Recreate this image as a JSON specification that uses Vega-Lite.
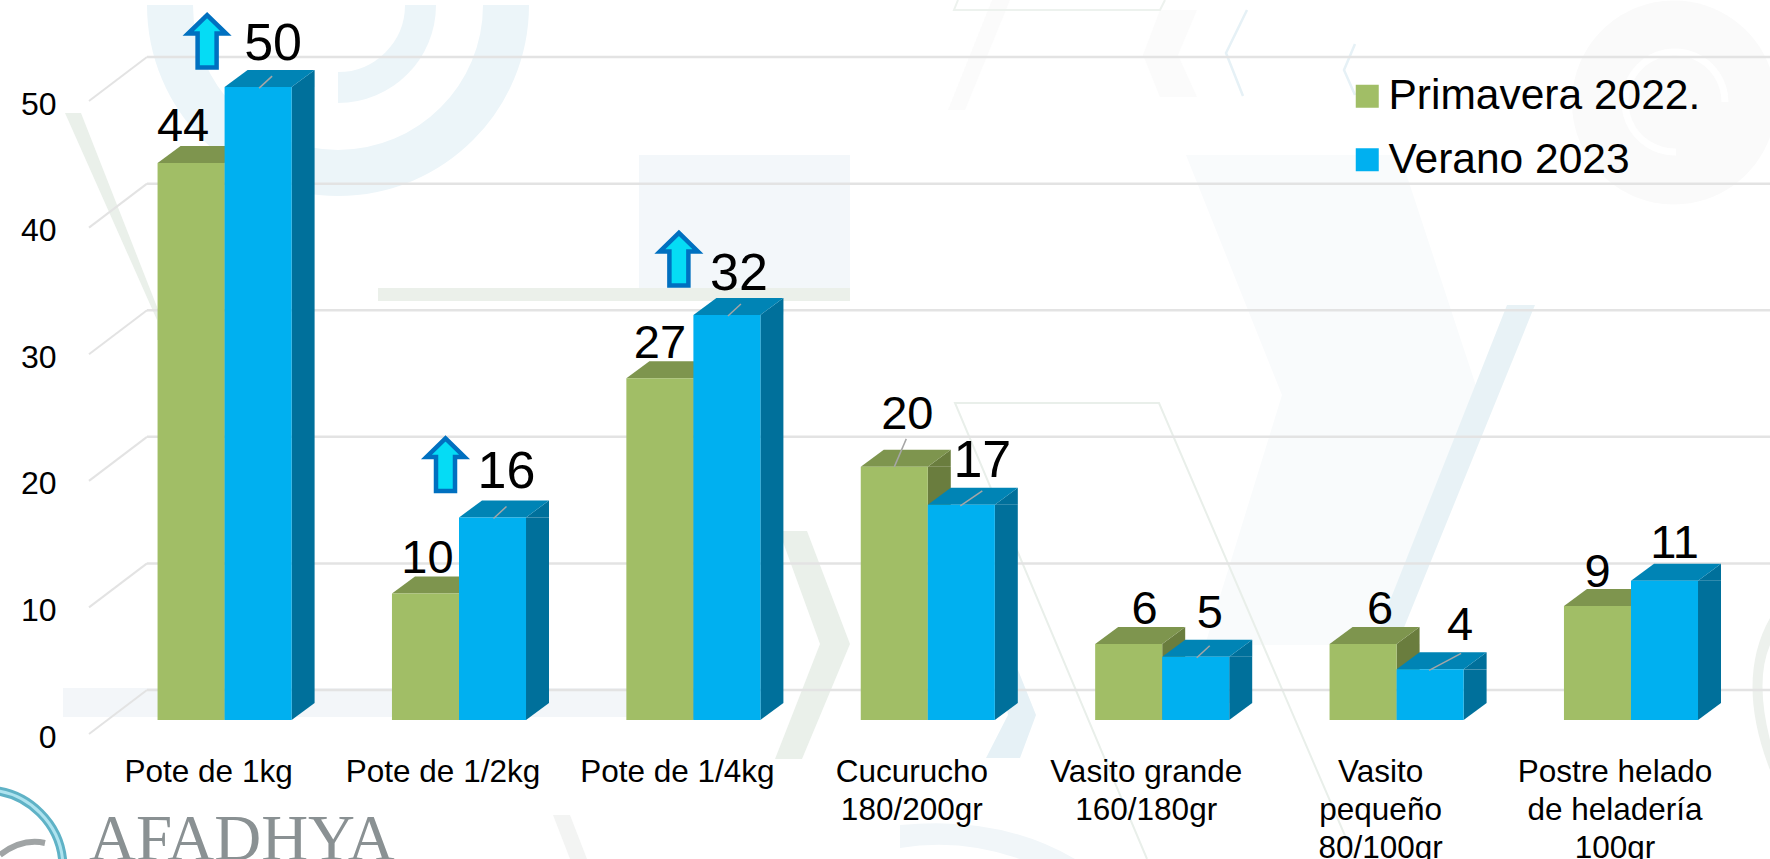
{
"$schema":"https://vega.github.io/schema/vega-lite/v6.json",
"width":1770,"height":859,"padding":0,"autosize":{"type":"none"},
"background":"white",
"config":{"view":{"stroke":null},"font":"Liberation Sans"},
"params":[
{"name":"cats","value":["Pote de 1kg","Pote de 1/2kg","Pote de 1/4kg","Cucurucho|180/200gr","Vasito grande|160/180gr","Vasito|pequeño|80/100gr","Postre helado|de heladería|100gr"]},
{"name":"dxP","value":[-8,2,0,13,16,17,0]},
{"name":"dxV","value":[15,14,12,21,14,30,10]},
{"name":"dyP","value":[36,34,34,52,34,34,33]},
{"name":"dyV","value":[43,45,41,44,43,43,37]}
],
"data":{"name":"main","values":[
{"cat":"Pote de 1kg","serie":"Primavera 2022.","valor":44},
{"cat":"Pote de 1/2kg","serie":"Primavera 2022.","valor":10},
{"cat":"Pote de 1/4kg","serie":"Primavera 2022.","valor":27},
{"cat":"Cucurucho|180/200gr","serie":"Primavera 2022.","valor":20},
{"cat":"Vasito grande|160/180gr","serie":"Primavera 2022.","valor":6},
{"cat":"Vasito|pequeño|80/100gr","serie":"Primavera 2022.","valor":6},
{"cat":"Postre helado|de heladería|100gr","serie":"Primavera 2022.","valor":9},
{"cat":"Pote de 1kg","serie":"Verano 2023","valor":50},
{"cat":"Pote de 1/2kg","serie":"Verano 2023","valor":16},
{"cat":"Pote de 1/4kg","serie":"Verano 2023","valor":32},
{"cat":"Cucurucho|180/200gr","serie":"Verano 2023","valor":17},
{"cat":"Vasito grande|160/180gr","serie":"Verano 2023","valor":5},
{"cat":"Vasito|pequeño|80/100gr","serie":"Verano 2023","valor":4},
{"cat":"Postre helado|de heladería|100gr","serie":"Verano 2023","valor":11}
]},
"encoding":{
"x":{"field":"cat","type":"nominal","sort":null,"scale":{"domain":{"expr":"cats"},"range":[107.4,1748.2],"paddingInner":0.428,"paddingOuter":0.214},"axis":{"title":null,"orient":"bottom","offset":-103,"zindex":1,"domain":false,"ticks":false,"grid":false,"labelAngle":0,"labelOffset":-16,"labelPadding":0,"labelFontSize":31.5,"labelColor":"#000000","labelFont":"Liberation Sans","labelLimit":400,"labelBaseline":"top","labelLineHeight":38,"labelExpr":"split(datum.label,'|')"}},
"xOffset":{"field":"serie","type":"nominal","sort":null,"scale":{"domain":["Primavera 2022.","Verano 2023"],"paddingInner":0,"paddingOuter":0}},
"y":{"field":"valor","type":"quantitative","scale":{"domain":[0,56.8],"range":[720,1],"nice":false,"zero":false},"axis":{"title":null,"orient":"left","offset":-56,"zindex":1,"values":[0,10,20,30,40,50],"domain":false,"ticks":false,"grid":false,"labelPadding":0,"labelOffset":17,"labelFontSize":32,"labelColor":"#000000","labelFont":"Liberation Sans"}}
},
"layer":[
{"data":{"values":[{}]},"mark":{"type":"point","shape":"M170 5A168 168 0 0 0 506 5","size":4,"filled":false,"stroke":"#ecf5f9","strokeWidth":46,"opacity":1},"encoding":{"x":{"value":0},"y":{"value":0},"xOffset":null}},
{"data":{"values":[{}]},"mark":{"type":"point","shape":"M338 87.5A82.5 82.5 0 0 0 420.5 5","size":4,"filled":false,"stroke":"#ecf5f9","strokeWidth":31,"opacity":1},"encoding":{"x":{"value":0},"y":{"value":0},"xOffset":null}},
{"data":{"values":[{}]},"mark":{"type":"point","shape":"M65 113L81 113L170 340L157 340L157 320Z","size":4,"filled":true,"fill":"#eaf0ea","opacity":1},"encoding":{"x":{"value":0},"y":{"value":0},"xOffset":null}},
{"data":{"values":[{}]},"mark":{"type":"point","shape":"M639 155L850 155L850 288L639 288Z","size":4,"filled":true,"fill":"#f3f7fa","opacity":1},"encoding":{"x":{"value":0},"y":{"value":0},"xOffset":null}},
{"data":{"values":[{}]},"mark":{"type":"point","shape":"M378 288L850 288L850 301L378 301Z","size":4,"filled":true,"fill":"#ebf0ea","opacity":1},"encoding":{"x":{"value":0},"y":{"value":0},"xOffset":null}},
{"data":{"values":[{}]},"mark":{"type":"point","shape":"M63 688L700 688L700 717L63 717Z","size":4,"filled":true,"fill":"#f3f6f9","opacity":1},"encoding":{"x":{"value":0},"y":{"value":0},"xOffset":null}},
{"data":{"values":[{}]},"mark":{"type":"point","shape":"M1186 155L1400 155L1479 395L1385 645L1205 645L1282 395Z","size":4,"filled":true,"fill":"#f9fbfc","opacity":1},"encoding":{"x":{"value":0},"y":{"value":0},"xOffset":null}},
{"data":{"values":[{}]},"mark":{"type":"point","shape":"M1507 305L1535 305L1379 689L1355 689Z","size":4,"filled":true,"fill":"#e8f2f6","opacity":1},"encoding":{"x":{"value":0},"y":{"value":0},"xOffset":null}},
{"data":{"values":[{}]},"mark":{"type":"point","shape":"M779 531L807 531L850 644L802 759L775 759L820 644Z","size":4,"filled":true,"fill":"#eaf0ea","opacity":1},"encoding":{"x":{"value":0},"y":{"value":0},"xOffset":null}},
{"data":{"values":[{}]},"mark":{"type":"point","shape":"M1018 670L1036 715L1020 758L986 758L1008 715L1000 670Z","size":4,"filled":true,"fill":"#e6f1f6","opacity":1},"encoding":{"x":{"value":0},"y":{"value":0},"xOffset":null}},
{"data":{"values":[{}]},"mark":{"type":"point","shape":"M900 825Q1000 815 1075 859L1020 859Q960 838 900 848Z","size":4,"filled":true,"fill":"#f1f6f9","opacity":1},"encoding":{"x":{"value":0},"y":{"value":0},"xOffset":null}},
{"data":{"values":[{}]},"mark":{"type":"point","shape":"M553 815L570 815L587 859L570 859Z","size":4,"filled":true,"fill":"#f3f4f3","opacity":1},"encoding":{"x":{"value":0},"y":{"value":0},"xOffset":null}},
{"data":{"values":[{}]},"mark":{"type":"point","shape":"M1770 618Q1735 680 1770 770L1770 740Q1755 680 1770 645Z","size":4,"filled":true,"fill":"#edf1ed","opacity":1},"encoding":{"x":{"value":0},"y":{"value":0},"xOffset":null}},
{"data":{"values":[{}]},"mark":{"type":"point","shape":"M1147 859L955 403L1159 403L1355 859","size":4,"filled":false,"stroke":"#e9efea","strokeWidth":2,"opacity":1},"encoding":{"x":{"value":0},"y":{"value":0},"xOffset":null}},
{"data":{"values":[{}]},"mark":{"type":"point","shape":"M992 0L1010 0L965 110L948 110Z","size":4,"filled":true,"fill":"#fbfbfb","opacity":1},"encoding":{"x":{"value":0},"y":{"value":0},"xOffset":null}},
{"data":{"values":[{}]},"mark":{"type":"point","shape":"M1160 10L1197 10L1178 55L1197 97L1160 97L1143 55Z","size":4,"filled":true,"fill":"#fbfbfb","opacity":1},"encoding":{"x":{"value":0},"y":{"value":0},"xOffset":null}},
{"data":{"values":[{}]},"mark":{"type":"point","shape":"M958 0L954 10L1160 10L1165 0","size":4,"filled":false,"stroke":"#edf2ee","strokeWidth":2,"opacity":1},"encoding":{"x":{"value":0},"y":{"value":0},"xOffset":null}},
{"data":{"values":[{}]},"mark":{"type":"point","shape":"M1247 10L1226 53L1243 96M1355 44L1344 70L1355 95","size":4,"filled":false,"stroke":"#e6f1f6","strokeWidth":2.5,"opacity":1},"encoding":{"x":{"value":0},"y":{"value":0},"xOffset":null}},
{"data":{"values":[{}]},"mark":{"type":"point","shape":"M1776 102A102 102 0 1 0 1776 103Z","size":4,"filled":true,"fill":"#fafafa","opacity":1},"encoding":{"x":{"value":0},"y":{"value":0},"xOffset":null}},
{"data":{"values":[{}]},"mark":{"type":"point","shape":"M1676 152A50 50 0 1 1 1725 102","size":4,"filled":false,"stroke":"#ffffff","strokeWidth":7,"opacity":1},"encoding":{"x":{"value":0},"y":{"value":0},"xOffset":null}},
{"data":{"values":[{}]},"mark":{"type":"point","shape":"M-15 790A78 78 0 0 1 63 868","size":4,"filled":false,"stroke":"#5fb2c6","strokeWidth":9,"opacity":1},"encoding":{"x":{"value":0},"y":{"value":0},"xOffset":null}},
{"data":{"values":[{}]},"mark":{"type":"point","shape":"M-15 790A78 78 0 0 1 63 868","size":4,"filled":false,"stroke":"#aee3ef","strokeWidth":3,"opacity":1},"encoding":{"x":{"value":0},"y":{"value":0},"xOffset":null}},
{"data":{"values":[{}]},"mark":{"type":"point","shape":"M0 855Q22 838 45 843","size":4,"filled":false,"stroke":"#a0a4a5","strokeWidth":6,"opacity":1},"encoding":{"x":{"value":0},"y":{"value":0},"xOffset":null}},
{"data":{"values":[{}]},"mark":{"type":"text","text":"AFADHYA","font":"Liberation Serif","fontSize":65,"align":"left","baseline":"alphabetic","fill":"#8a9193"},"encoding":{"x":{"value":89},"y":{"value":860},"xOffset":null,"text":null}},

{"data":{"values":[{"v":0},{"v":10},{"v":20},{"v":30},{"v":40},{"v":50}]},"mark":{"type":"rule","stroke":"#e3e3e3","strokeWidth":2.5,"yOffset":-30},"encoding":{"x":{"value":147},"x2":{"value":1770},"y":{"field":"v","type":"quantitative"},"xOffset":null}},
{"data":{"values":[{"v":0},{"v":10},{"v":20},{"v":30},{"v":40},{"v":50}]},"mark":{"type":"point","shape":"M0 -30L-58 14","size":4,"filled":false,"stroke":"#e3e3e3","strokeWidth":2,"opacity":1},"encoding":{"x":{"value":147},"y":{"field":"v","type":"quantitative"},"xOffset":null}},

{"mark":{"type":"rule","strokeWidth":23,"xOffset":{"expr":"datum.serie==='Verano 2023'?78.5:11.5"},"y2Offset":-17},"encoding":{"xOffset":null,"y2":{"datum":0},"stroke":{"condition":{"test":"datum.serie==='Verano 2023'","value":"#00709b"},"value":"#6a7d3e"}}},
{"mark":{"type":"point","shape":"M33.5 0L56.5 -17L56.5 0Z","size":4,"filled":true,"opacity":1},"encoding":{"fill":{"condition":{"test":"datum.serie==='Verano 2023'","value":"#00709b"},"value":"#6a7d3e"}}},
{"mark":{"type":"point","shape":"M33.5 0L56.5 -17L33.5 -17Z","size":4,"filled":true,"opacity":1},"encoding":{"y":{"datum":0},"fill":{"condition":{"test":"datum.serie==='Verano 2023'","value":"#00709b"},"value":"#6a7d3e"}}},
{"mark":{"type":"point","shape":"M-33.5 0L33.5 0L56.5 -17L-10.5 -17Z","size":4,"filled":true,"opacity":1},"encoding":{"fill":{"condition":{"test":"datum.serie==='Verano 2023'","value":"#0084b5"},"value":"#7e954e"}}},
{"mark":{"type":"bar"},"encoding":{"y2":{"datum":0},"color":{"field":"serie","type":"nominal","sort":null,"scale":{"domain":["Primavera 2022.","Verano 2023"],"range":["#a1be66","#00b0f0"]},"legend":{"title":null,"orient":"none","legendX":1346,"legendY":75,"symbolType":"square","symbolSize":529,"symbolStrokeWidth":0,"labelFontSize":42.5,"labelFont":"Liberation Sans","labelColor":"#000000","labelOffset":0,"rowPadding":20.5,"labelLimit":500}}}},

{"transform":[{"filter":"datum.serie==='Verano 2023' && (datum.valor==50||datum.valor==16||datum.valor==32||datum.valor==5)"}],"mark":{"type":"point","shape":"M1 1L14 -11","size":4,"filled":false,"stroke":"#a6a6a6","strokeWidth":1.5,"opacity":1}},
{"transform":[{"filter":"datum.serie==='Verano 2023' && datum.valor==17"}],"mark":{"type":"point","shape":"M-1 1L21 -14","size":4,"filled":false,"stroke":"#a6a6a6","strokeWidth":1.5,"opacity":1}},
{"transform":[{"filter":"datum.serie==='Verano 2023' && datum.valor==4"}],"mark":{"type":"point","shape":"M-1 1L31 -16","size":4,"filled":false,"stroke":"#a6a6a6","strokeWidth":1.5,"opacity":1}},
{"transform":[{"filter":"datum.serie==='Primavera 2022.' && datum.valor==20"}],"mark":{"type":"point","shape":"M0 0L12 -28","size":4,"filled":false,"stroke":"#a6a6a6","strokeWidth":1.5,"opacity":1}},

{"transform":[{"filter":"datum.serie==='Verano 2023' && datum.valor==50"}],"mark":{"type":"point","shape":"M0 3L19 21.5L9.5 21.5L9.5 55.5L-9.5 55.5L-9.5 21.5L-19 21.5Z","size":4,"filled":true,"fill":"#05dcf5","stroke":"#0070c0","strokeWidth":4.5,"opacity":1,"xOffset":-17.5,"yOffset":-75},"encoding":{"xOffset":null}},
{"transform":[{"filter":"datum.serie==='Verano 2023' && datum.valor==16"}],"mark":{"type":"point","shape":"M0 3L19 21.5L9.5 21.5L9.5 55.5L-9.5 55.5L-9.5 21.5L-19 21.5Z","size":4,"filled":true,"fill":"#05dcf5","stroke":"#0070c0","strokeWidth":4.5,"opacity":1,"xOffset":-13.5,"yOffset":-82},"encoding":{"xOffset":null}},
{"transform":[{"filter":"datum.serie==='Verano 2023' && datum.valor==32"}],"mark":{"type":"point","shape":"M0 3L19 21.5L9.5 21.5L9.5 55.5L-9.5 55.5L-9.5 21.5L-19 21.5Z","size":4,"filled":true,"fill":"#05dcf5","stroke":"#0070c0","strokeWidth":4.5,"opacity":1,"xOffset":-14.5,"yOffset":-85},"encoding":{"xOffset":null}},

{"mark":{"type":"text","font":"Liberation Sans","fill":"#000000","baseline":"middle","align":"center",
"fontSize":{"expr":"datum.serie==='Verano 2023'&&datum.valor>=16?52:47"},
"dx":{"expr":"(datum.serie==='Verano 2023'?dxV:dxP)[indexof(cats,datum.cat)]"},
"dy":{"expr":"-(datum.serie==='Verano 2023'?dyV:dyP)[indexof(cats,datum.cat)]"}},
"encoding":{"text":{"field":"valor","type":"quantitative"}}}
]
}
